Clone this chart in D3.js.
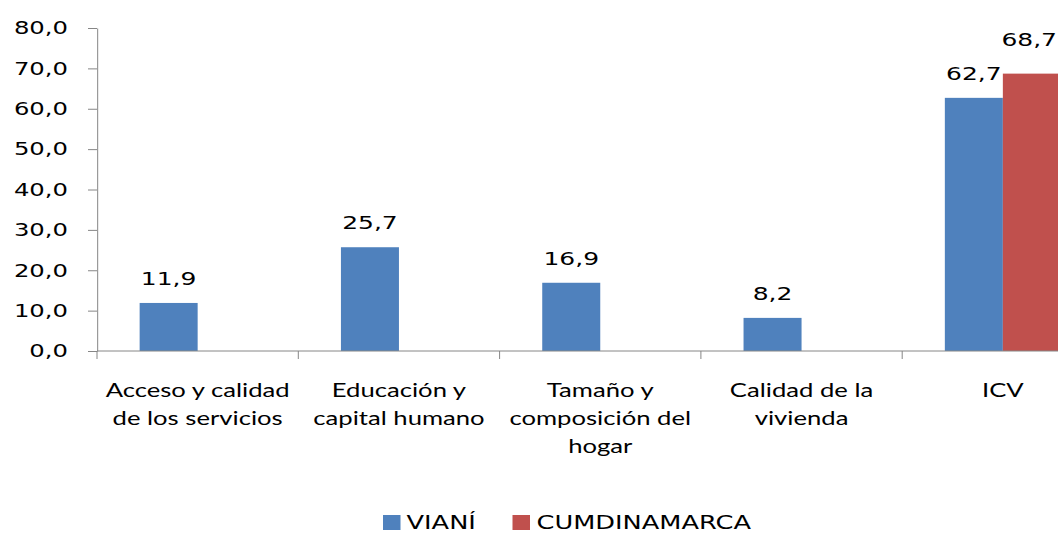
<!DOCTYPE html>
<html><head><meta charset="utf-8">
<script src="https://cdn.jsdelivr.net/npm/d3@7"></script>
<style>body{margin:0;background:#fff} svg{display:block}</style>
</head><body><svg id="c" width="1058" height="533"></svg>
<script>
const categories = ["Acceso y calidad de los servicios","Educación y capital humano","Tamaño y composición del hogar","Calidad de la vivienda","ICV"];
const categoryLines = [["Acceso y calidad","de los servicios"],["Educación y","capital humano"],["Tamaño y","composición del","hogar"],["Calidad de la","vivienda"],["ICV"]];
const seriesNames = ["VIANÍ","CUMDINAMARCA"];
const vianiValues = [11.9,25.7,16.9,8.2,62.7];
const cundinamarcaValues = [null,null,null,null,68.7];
const yTicks = [0,10,20,30,40,50,60,70,80];

const colors = ["#4F81BD","#C0504D"];
const labelOffsets = [18, 28];
const K = 1.35; // horizontal stretch of the whole picture
const W = 1058;
const fmt = v => d3.format(".1f")(v).replace(".", ",");

const svg = d3.select("#c");
const g = svg.append("g").attr("transform", `scale(${K},1)`);

const x0 = d3.scaleBand().domain(categories).range([97/K, (97 + 5*201.3)/K]);
const x1 = d3.scaleBand().domain(seriesNames).range([0, x0.bandwidth()]).paddingOuter(0.735);
const y = d3.scaleLinear().domain([0, 80]).range([351, 28]);

// bars
const seriesData = [vianiValues, cundinamarcaValues];
seriesNames.forEach((s, si) => {
  const pts = categories.map((c, i) => ({c, v: seriesData[si][i]})).filter(d => d.v != null);
  g.append("g").selectAll("rect").data(pts).join("rect")
    .attr("x", d => x0(d.c) + x1(s))
    .attr("width", x1.bandwidth())
    .attr("y", d => y(d.v))
    .attr("height", d => y(0) - y(d.v))
    .attr("fill", colors[si]);
  g.append("g").selectAll("text").data(pts).join("text")
    .attr("x", d => x0(d.c) + x1(s) + x1.bandwidth()/2)
    .attr("y", d => y(d.v) - labelOffsets[si])
    .attr("text-anchor", "middle")
    .style("font-family", "DejaVu Sans")
    .style("font-size", "18.5px")
    .attr("fill", "#000")
    .text(d => fmt(d.v))
    .each(function() {
      // keep label inside the chart's right edge
      const bb = this.getBBox();
      const maxRight = (W - 1) / K;
      if (bb.x + bb.width > maxRight) {
        d3.select(this).attr("x", +d3.select(this).attr("x") - (bb.x + bb.width - maxRight));
      }
    });
});

// y axis
const ya = g.append("g").attr("transform", `translate(${97/K},0)`)
  .call(d3.axisLeft(y).tickValues(yTicks).tickSize(9/K).tickSizeOuter(0).tickPadding(20/K).tickFormat(fmt));
ya.selectAll("path,line").attr("stroke", "#868686").attr("vector-effect", "non-scaling-stroke");
ya.selectAll("text").style("font-family", "DejaVu Sans").style("font-size", "18px").attr("fill", "#000");

// x axis
const [xa, xb] = x0.range();
g.append("line").attr("x1", xa).attr("x2", xb).attr("y1", y(0)).attr("y2", y(0))
  .attr("stroke", "#868686").attr("vector-effect", "non-scaling-stroke");
g.append("g").selectAll("line").data(d3.range(categories.length + 1)).join("line")
  .attr("x1", i => xa + i*x0.step()).attr("x2", i => xa + i*x0.step())
  .attr("y1", y(0)).attr("y2", y(0) + 8)
  .attr("stroke", "#868686").attr("vector-effect", "non-scaling-stroke");

// category labels
categories.forEach((c, i) => {
  const t = g.append("text")
    .attr("text-anchor", "middle")
    .style("font-family", "Lato")
    .style("font-size", "19px")
    .attr("fill", "#000");
  categoryLines[i].forEach((ln, j) => {
    t.append("tspan").attr("x", x0(c) + x0.bandwidth()/2).attr("y", 397 + j*28).text(ln);
  });
});

// legend
const legendX = [[383, 406.5], [512.5, 536.5]];
seriesNames.forEach((s, si) => {
  g.append("rect").attr("x", legendX[si][0]/K).attr("y", 515).attr("width", 17.5/K).attr("height", 15).attr("fill", colors[si]);
  g.append("text").attr("x", legendX[si][1]/K).attr("y", 529)
    .style("font-family", "DejaVu Sans").style("font-size", "19px").attr("fill", "#000").text(s);
});
</script></body></html>
